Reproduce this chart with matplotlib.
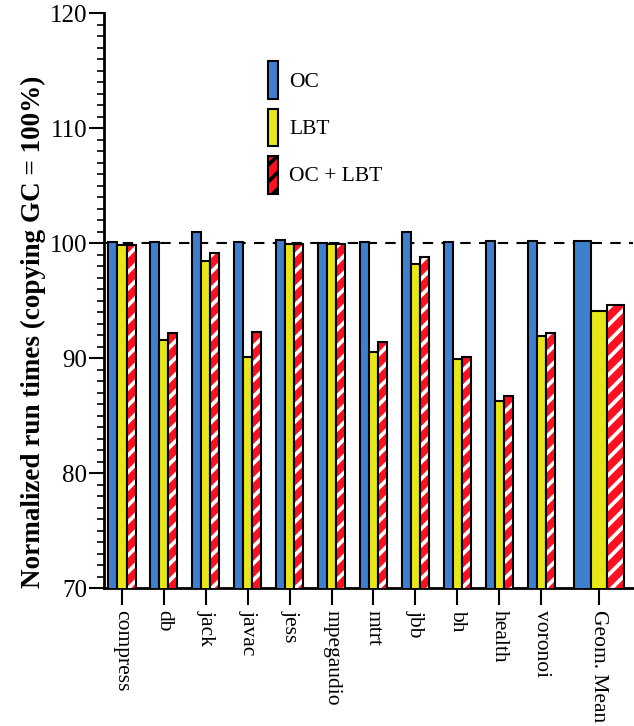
import matplotlib
matplotlib.use("Agg")
import matplotlib.pyplot as plt
import numpy as np
from matplotlib.patches import Patch
from matplotlib.ticker import MultipleLocator

plt.rcParams['font.family'] = ['Liberation Serif', 'DejaVu Serif']
plt.rcParams['hatch.linewidth'] = 2.7

# benchmark names and normalized run times (copying GC = 100)
benchmarks = ['compress', 'db', 'jack', 'javac', 'jess', 'mpegaudio',
              'mtrt', 'jbb', 'bh', 'health', 'voronoi', 'Geom. Mean']
ocTimes = [100.1, 100.05, 101.0, 100.05, 100.3, 100.0,
           100.05, 101.0, 100.05, 100.2, 100.17, 100.2]
lbtTimes = [99.8, 91.6, 98.4, 90.1, 99.95, 99.95,
            90.5, 98.2, 89.9, 86.3, 91.9, 94.1]
bothTimes = [99.8, 92.2, 99.1, 92.3, 99.9, 99.95,
             91.4, 98.8, 90.1, 86.7, 92.2, 94.6]

blue = '#3f7fcf'
yellow = '#e6e619'
red = '#ff1020'

fig = plt.figure(figsize=(6.34, 7.26), dpi=100)
ax = fig.add_axes([0.164, 0.19, 0.835, 0.792])

# the geometric mean sits a bit apart and uses wider bars
xpos = np.append(np.arange(len(benchmarks) - 1), len(benchmarks) - 1 + 0.38)
width = np.array([0.215] * (len(benchmarks) - 1) + [0.4])

ax.bar(xpos - width, ocTimes, width, color=blue, edgecolor='black', linewidth=1.5, zorder=3)
ax.bar(xpos, lbtTimes, width, color=yellow, edgecolor='black', linewidth=1.5, zorder=3)
ax.bar(xpos + width, bothTimes, width, color=red, edgecolor='white', hatch='//',
       linewidth=0, zorder=3)
ax.bar(xpos + width, bothTimes, width, color='none', edgecolor='black', linewidth=1.5, zorder=4)

ax.axhline(100, color='black', linestyle=(0, (5, 4)), linewidth=1.5, zorder=2)

ax.set_ylim(70, 120)
ax.set_xlim(-0.43, 12.2)
ax.yaxis.set_major_locator(MultipleLocator(10))
ax.yaxis.set_minor_locator(MultipleLocator(1))
ax.tick_params(axis='y', which='major', length=11, width=1.5, labelsize=18,
               direction='out', pad=1)
ax.tick_params(axis='y', which='minor', length=5, width=1.2, direction='out')
ax.set_xticks(xpos)
ax.set_xticklabels(benchmarks, rotation=270, fontsize=15.5)
ax.tick_params(axis='x', length=12, width=1.5, direction='out', pad=4)

for side in ['top', 'right']:
    ax.spines[side].set_visible(False)
for side in ['left', 'bottom']:
    ax.spines[side].set_linewidth(2)

ax.set_ylabel('Normalized run times (copying GC = 100%)', fontsize=19.5,
              fontweight='bold')
ax.yaxis.set_label_coords(-0.11, 0.445)

handles = [Patch(facecolor=blue, edgecolor='black', linewidth=1.5, label='OC'),
           Patch(facecolor=yellow, edgecolor='black', linewidth=1.5, label='LBT'),
           Patch(facecolor=red, edgecolor='white', hatch='//', linewidth=1.5, label='OC + LBT')]
leg = ax.legend(handles=handles, loc='upper left', bbox_to_anchor=(0.31, 0.916),
                frameon=False, fontsize=15.5, handlelength=0.47, handleheight=2.33,
                labelspacing=0.435, handletextpad=0.5, borderpad=0, borderaxespad=0)
for p in leg.get_patches()[2:]:
    p.set_edgecolor('black')

fig.savefig('out.png', dpi=100)
